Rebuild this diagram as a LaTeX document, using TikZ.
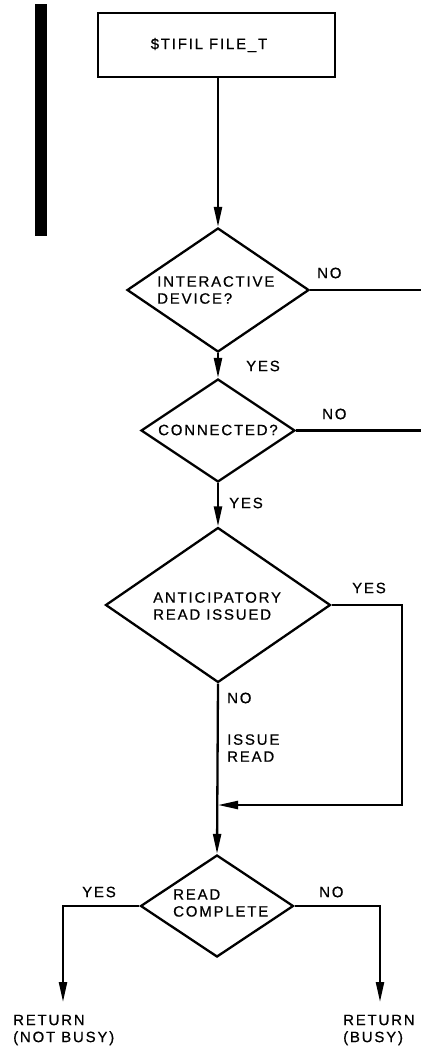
\documentclass[tikz,border=0pt]{standalone}
\usepackage{fontspec}
\setmainfont{Liberation Sans}[LetterSpace=12,FakeBold=0.6]
\usetikzlibrary{shapes.geometric,arrows.meta}

\tikzset{
  flow/.style={line width=2.3pt},
  arr/.style={flow, -{Triangle[length=20pt,width=8pt]}},
  dia/.style={diamond, draw, line width=2.3pt, inner sep=0pt},
  procbox/.style={draw, line width=1.8pt, inner sep=0pt},
  txt/.style={font=\fontsize{15}{17}\selectfont, align=left, inner sep=0pt, anchor=west},
}

\begin{document}
\begin{tikzpicture}[x=1pt,y=-1pt]
\useasboundingbox (0,0) rectangle (421,1050);

% margin bar
\fill (35,4) rectangle (47,236);

% entry block
\node[procbox, minimum width=237pt, minimum height=64pt] (start) at (216.5,45) {};
\node[txt, anchor=center] (starttxt) at (209,45) {\$TIFIL FILE\_T};

% decisions
\node[dia, minimum width=182pt, minimum height=124pt] (d1) at (218,290) {};
\node[txt] (d1txt) at (157,290) {INTERACTIVE\\DEVICE?};

\node[dia, minimum width=154pt, minimum height=103pt] (d2) at (218,430.5) {};
\node[txt] (d2txt) at (158,430) {CONNECTED?};

\node[dia, minimum width=225pt, minimum height=155pt] (d3) at (218,605) {};
\node[txt] (d3txt) at (153,606) {ANTICIPATORY\\READ ISSUED};

\node[dia, minimum width=153pt, minimum height=102pt] (d4) at (217,906) {};
\node[txt] (d4txt) at (173,903) {READ\\COMPLETE};

% free ends
\coordinate (e1) at (421,290);
\coordinate (e2) at (421,430.5);
\coordinate (loopR) at (402,805);
\coordinate (merge) at (218,805);
\coordinate (outL) at (63,1002);
\coordinate (outR) at (380,1002);

% connectors
\draw[arr] (start.south -| d1.north) -- (d1.north);
\draw[flow] (d1.east) -- (e1);
\draw[arr] (d1.south) -- (d2.north);
\draw[flow] (d2.east) -- (e2);
\draw[arr] (d2.south) -- (d3.north);
\draw[arr] (d3.east) -| (loopR) -- (merge);
\draw[arr] (d3.south) -- (d4.north);
\draw[arr] (d4.west) -| (outL);
\draw[arr] (d4.east) -| (outR);

% branch labels
\node[txt] (no1) at (317,273) {NO};
\node[txt] (yes1) at (246,366) {YES};
\node[txt] (no2) at (322,414) {NO};
\node[txt] (yes2) at (229,503) {YES};
\node[txt] (yes3) at (352,588) {YES};
\node[txt] (no3) at (227,698) {NO};
\node[txt] (issue) at (227,748) {ISSUE\\READ};
\node[txt] (yes4) at (82,892) {YES};
\node[txt] (no4) at (319,892) {NO};

% exits
\node[txt] (retL) at (13,1030) {RETURN\\(NOT BUSY)};
\node[txt] (retR) at (343,1030) {RETURN\\(BUSY)};
\end{tikzpicture}
\end{document}
